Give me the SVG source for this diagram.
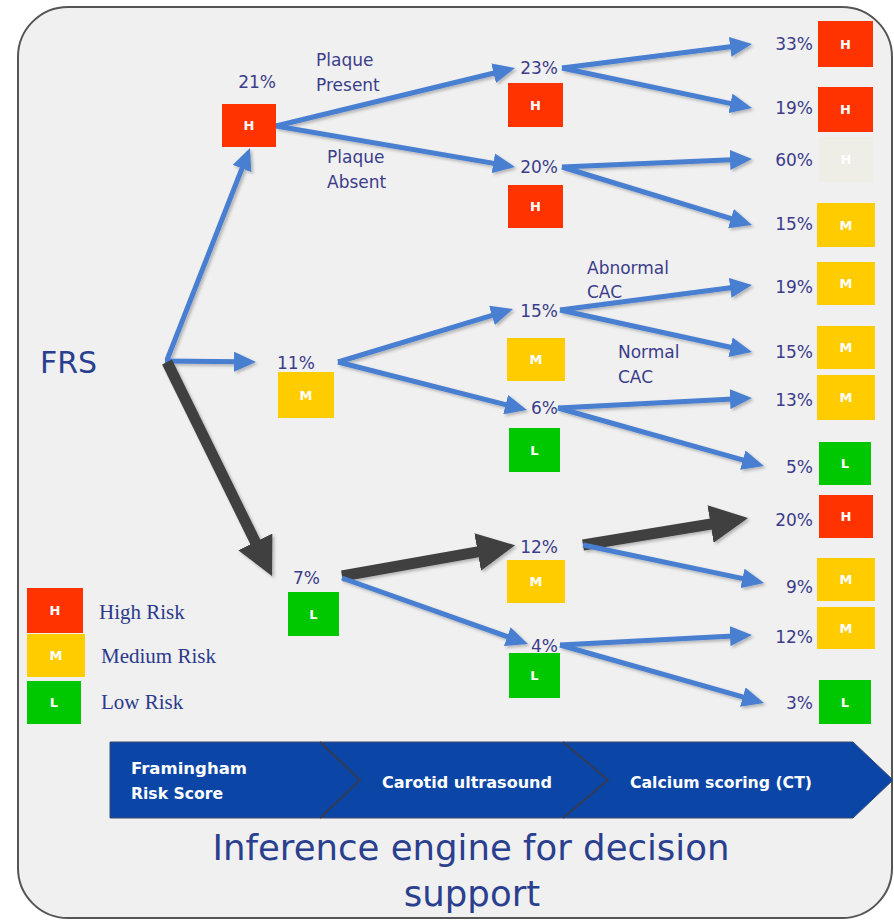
<svg xmlns="http://www.w3.org/2000/svg" width="894" height="920" viewBox="0 0 894 920">
<defs>
<style>
.pct{font-family:"DejaVu Sans",sans-serif;font-size:17px;fill:#3b3d8a}
.lbl{font-family:"DejaVu Sans",sans-serif;font-size:17px;fill:#3b3d8a}
.bx{font-family:"DejaVu Sans",sans-serif;font-size:13px;font-weight:bold;fill:#ffffff;text-anchor:middle}
.H{fill:#ff3300}.M{fill:#ffcc00}.L{fill:#00c800}.X{fill:#eeede6}
.blue{stroke:#4a7fd1;stroke-width:5;fill:none;marker-end:url(#ab)}
.dark{stroke:#404040;stroke-width:11;fill:none;marker-end:url(#ad)}
.leg{font-family:"Liberation Serif",serif;font-size:21px;fill:#2b3a8c}
.ban{font-family:"DejaVu Sans",sans-serif;font-size:16px;font-weight:bold;fill:#ffffff}
.ttl{font-family:"DejaVu Sans",sans-serif;font-size:35.5px;fill:#2b3f8f;text-anchor:middle}
</style>
<marker id="ab" markerUnits="userSpaceOnUse" markerWidth="22" markerHeight="20" refX="8" refY="10" orient="auto"><path d="M0,0 L22,10 L0,20 z" fill="#4a7fd1"/></marker>
<marker id="ad" markerUnits="userSpaceOnUse" markerWidth="38" markerHeight="38" refX="10" refY="19" orient="auto"><path d="M0,0 L38,19 L0,38 z" fill="#404040"/></marker>
<filter id="sh" x="-10%" y="-10%" width="120%" height="120%"><feDropShadow dx="2" dy="2" stdDeviation="1.5" flood-color="#000" flood-opacity="0.25"/></filter>
</defs>
<rect x="0" y="0" width="894" height="920" fill="#ffffff"/>
<rect id="panel" x="18" y="7" width="874" height="911" rx="50" ry="50" fill="#f0f0f0" stroke="#555" stroke-width="2"/>

<g id="connectors" filter="url(#sh)">
<line class="blue" x1="167" y1="360" x2="244.9" y2="161"/>
<line class="blue" x1="165" y1="361" x2="242" y2="361.8"/>
<line class="dark" x1="167" y1="362" x2="259.7" y2="550.9"/>
<line class="blue" x1="276" y1="126" x2="501.4" y2="71.3"/>
<line class="blue" x1="276" y1="126" x2="501.2" y2="164.6"/>
<line class="blue" x1="562" y1="68" x2="738.1" y2="45.8"/>
<line class="blue" x1="562" y1="68" x2="738.3" y2="105.1"/>
<line class="blue" x1="562" y1="167" x2="738" y2="159.6"/>
<line class="blue" x1="562" y1="167" x2="738.6" y2="220.9"/>
<line class="blue" x1="338" y1="362" x2="499.6" y2="313.1"/>
<line class="blue" x1="338" y1="362" x2="513.4" y2="406.6"/>
<line class="blue" x1="560" y1="310" x2="738.1" y2="286.8"/>
<line class="blue" x1="560" y1="310" x2="738.3" y2="349"/>
<line class="blue" x1="558" y1="408" x2="738" y2="398.7"/>
<line class="blue" x1="558" y1="408" x2="750.5" y2="462.2"/>
<line class="dark" x1="342" y1="576" x2="487.5" y2="550.2"/>
<line class="blue" x1="342" y1="578" x2="514.8" y2="639.3"/>
<line class="dark" x1="583" y1="545" x2="720.4" y2="522.5"/>
<line class="blue" x1="583" y1="545" x2="750.3" y2="580.1"/>
<line class="blue" x1="560" y1="645" x2="738" y2="635.7"/>
<line class="blue" x1="560" y1="645" x2="750.5" y2="699.2"/>
</g>

<g id="frs"><text x="40" y="373" font-family="DejaVu Sans, sans-serif" font-size="30" fill="#2a3f8f">FRS</text></g>

<g id="plaque-present"><text class="lbl" x="316" y="66">Plaque</text><text class="lbl" x="316" y="91">Present</text></g>
<g id="plaque-absent"><text class="lbl" x="327" y="163">Plaque</text><text class="lbl" x="327" y="188">Absent</text></g>
<g id="abnormal-cac"><text class="lbl" x="587" y="274">Abnormal</text><text class="lbl" x="587" y="298">CAC</text></g>
<g id="normal-cac"><text class="lbl" x="618" y="358">Normal</text><text class="lbl" x="618" y="383">CAC</text></g>

<g id="n21"><text class="pct" x="276" y="88" text-anchor="end">21%</text><rect class="H" x="222" y="104" width="54" height="43"/><text class="bx" x="249" y="130">H</text></g>
<g id="n11"><text class="pct" x="277" y="369">11%</text><rect class="M" x="278" y="372" width="56" height="46"/><text class="bx" x="306" y="400">M</text></g>
<g id="n7"><text class="pct" x="293" y="584">7%</text><rect class="L" x="288" y="592" width="51" height="44"/><text class="bx" x="313.5" y="619">L</text></g>

<g id="n23"><text class="pct" x="558" y="74" text-anchor="end">23%</text><rect class="H" x="508" y="83" width="55" height="44"/><text class="bx" x="535.5" y="110">H</text></g>
<g id="n20"><text class="pct" x="558" y="173" text-anchor="end">20%</text><rect class="H" x="508" y="185" width="55" height="43"/><text class="bx" x="535.5" y="211">H</text></g>
<g id="n15"><text class="pct" x="558" y="317" text-anchor="end">15%</text><rect class="M" x="507" y="338" width="58" height="43"/><text class="bx" x="536" y="364">M</text></g>
<g id="n6"><text class="pct" x="558" y="414" text-anchor="end">6%</text><rect class="L" x="509" y="428" width="51" height="44"/><text class="bx" x="534.5" y="455">L</text></g>
<g id="n12"><text class="pct" x="558" y="553" text-anchor="end">12%</text><rect class="M" x="507" y="560" width="58" height="43"/><text class="bx" x="536" y="586">M</text></g>
<g id="n4"><text class="pct" x="558" y="652" text-anchor="end">4%</text><rect class="L" x="509" y="653" width="51" height="45"/><text class="bx" x="534.5" y="680">L</text></g>

<g id="r33"><text class="pct" x="813" y="50" text-anchor="end">33%</text><rect class="H" x="818" y="21" width="55" height="46"/><text class="bx" x="845.5" y="49">H</text></g>
<g id="r19a"><text class="pct" x="813" y="114" text-anchor="end">19%</text><rect class="H" x="818" y="87" width="55" height="45"/><text class="bx" x="845.5" y="114">H</text></g>
<g id="r60"><text class="pct" x="813" y="166" text-anchor="end">60%</text><rect class="X" x="819" y="137" width="54" height="45"/><text class="bx" x="846" y="164">H</text></g>
<g id="r15a"><text class="pct" x="813" y="230" text-anchor="end">15%</text><rect class="M" x="817" y="203" width="58" height="44"/><text class="bx" x="846" y="230">M</text></g>
<g id="r19b"><text class="pct" x="813" y="293" text-anchor="end">19%</text><rect class="M" x="817" y="262" width="58" height="43"/><text class="bx" x="846" y="288">M</text></g>
<g id="r15b"><text class="pct" x="813" y="358" text-anchor="end">15%</text><rect class="M" x="817" y="326" width="58" height="43"/><text class="bx" x="846" y="352">M</text></g>
<g id="r13"><text class="pct" x="813" y="406" text-anchor="end">13%</text><rect class="M" x="817" y="375" width="58" height="45"/><text class="bx" x="846" y="402">M</text></g>
<g id="r5"><text class="pct" x="813" y="473" text-anchor="end">5%</text><rect class="L" x="819" y="442" width="52" height="43"/><text class="bx" x="845" y="468">L</text></g>
<g id="r20"><text class="pct" x="813" y="526" text-anchor="end">20%</text><rect class="H" x="819" y="495" width="54" height="43"/><text class="bx" x="846" y="521">H</text></g>
<g id="r9"><text class="pct" x="813" y="593" text-anchor="end">9%</text><rect class="M" x="817" y="558" width="58" height="43"/><text class="bx" x="846" y="584">M</text></g>
<g id="r12"><text class="pct" x="813" y="643" text-anchor="end">12%</text><rect class="M" x="817" y="607" width="58" height="42"/><text class="bx" x="846" y="633">M</text></g>
<g id="r3"><text class="pct" x="813" y="709" text-anchor="end">3%</text><rect class="L" x="819" y="680" width="52" height="44"/><text class="bx" x="845" y="707">L</text></g>

<g id="legend">
<rect class="H" x="27" y="588" width="56" height="45"/><text class="bx" x="55" y="615">H</text>
<rect class="M" x="27" y="634" width="58" height="43"/><text class="bx" x="56" y="660">M</text>
<rect class="L" x="27" y="681" width="54" height="43"/><text class="bx" x="54" y="707">L</text>
<text class="leg" x="99" y="619">High Risk</text>
<text class="leg" x="101" y="663">Medium Risk</text>
<text class="leg" x="101" y="709">Low Risk</text>
</g>

<g id="banner">
<polygon points="110,742 853,742 893,780 853,818 110,818" fill="#0b46a6" stroke="#3a4a70" stroke-width="1"/>
<polyline points="320,742 360,780 320,818" fill="none" stroke="#333b55" stroke-width="2"/>
<polyline points="563,742 608,780 563,818" fill="none" stroke="#333b55" stroke-width="2"/>
<text class="ban" x="131" y="774" textLength="116" lengthAdjust="spacingAndGlyphs">Framingham</text>
<text class="ban" x="131" y="799" textLength="92" lengthAdjust="spacingAndGlyphs">Risk Score</text>
<text class="ban" x="382" y="788" textLength="170" lengthAdjust="spacingAndGlyphs">Carotid ultrasound</text>
<text class="ban" x="630" y="788" textLength="182" lengthAdjust="spacingAndGlyphs">Calcium scoring (CT)</text>
</g>

<g id="title">
<text class="ttl" x="471" y="860">Inference engine for decision</text>
<text class="ttl" x="472" y="906">support</text>
</g>
</svg>
